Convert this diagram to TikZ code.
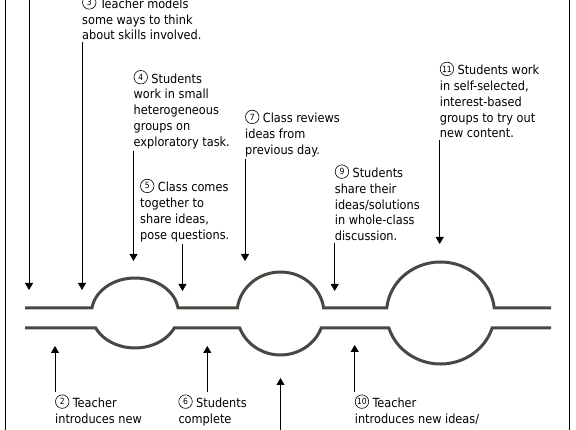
\documentclass[tikz,border=0pt]{standalone}
\usepackage{fontspec}
\setmainfont{DejaVu Sans Condensed}
\usetikzlibrary{arrows.meta}
\definecolor{pipegray}{HTML}{4A4641}
\newcommand{\cnum}[1]{\tikz[baseline={([yshift=1pt]cn.south)}]\node[circle, draw, line width=0.6pt, inner sep=0pt, minimum size=13.5pt, font=\fontsize{8.5}{8.5}\selectfont] (cn) {#1};}
\tikzset{
    note-text/.style = {anchor=base west, inner sep=0pt, align=left, font=\fontsize{12.6}{15.7}\selectfont},
    pipe-wall/.style = {draw=pipegray, line width=3pt},
    cue-arrow/.style = {draw, line width=0.8pt, shorten <=2pt, -{Triangle[width=8pt, length=7pt]}},
}

\begin{document}
\begin{tikzpicture}[x=1pt, y=1pt]
\useasboundingbox (0,0) rectangle (576,430);
% frame
\draw[line width=0.8pt] (5,-5) -- (5,435);
\draw[line width=0.8pt] (569,-5) -- (569,435);
% pipe with three bulbs
\draw[pipe-wall] (25,122) -- (91.95,122)
    arc[start angle=171.8, end angle=8.2, x radius=43.5, y radius=35] -- (237.38,122)
    arc[start angle=172.38, end angle=7.62, x radius=43.5, y radius=41.5] -- (386.76,122)
    arc[start angle=174.37, end angle=5.63, x radius=54, y radius=51] -- (551,122);
\draw[pipe-wall] (25,102) -- (95.7,102)
    arc[start angle=205.4, end angle=334.6, x radius=43.5, y radius=35] -- (239.74,102)
    arc[start angle=200.45, end angle=339.55, x radius=43.5, y radius=41.5] -- (388.89,102)
    arc[start angle=197.1, end angle=342.9, x radius=54, y radius=51] -- (551,102);
% labels above (placed by their last baseline)
\node[note-text] (l3) at (82,390.1) {\cnum{3} Teacher models\\some ways to think\\about skills involved.};
\node[note-text] (l4) at (133.5,283.9) {\cnum{4} Students\\work in small\\heterogeneous\\groups on\\exploratory task.};
\node[note-text] (l5) at (140,190.9) {\cnum{5} Class comes\\together to\\share ideas,\\pose questions.};
\node[note-text] (l7) at (245,275.6) {\cnum{7} Class reviews\\ideas from\\previous day.};
\node[note-text] (l9) at (334.7,189.5) {\cnum{9} Students\\share their\\ideas/solutions\\in whole-class\\discussion.};
\node[note-text] (l11) at (439.7,292.2) {\cnum{11} Students work\\in self-selected,\\interest-based\\groups to try out\\new content.};
% labels below
\node[note-text] (l2) at (55,6.6) {\cnum{2} Teacher\\introduces new};
\node[note-text] (l6) at (178.3,6.6) {\cnum{6} Students\\complete};
\node[note-text] (l10) at (354.7,6.6) {\cnum{10} Teacher\\introduces new ideas/};
% arrow tips
\coordinate (t1) at (29,140);
\coordinate (t3) at (82,140);
\coordinate (t4) at (133.5,169);
\coordinate (t5) at (182.5,139);
\coordinate (t7) at (245,169);
\coordinate (t9) at (334.7,139);
\coordinate (t11) at (439.7,186);
\coordinate (t2) at (55,84);
\coordinate (t6) at (207.3,84);
\coordinate (t8) at (280.5,52);
\coordinate (t10) at (354.7,85);
\coordinate (s1) at (29,435);
\coordinate (s8) at (280.5,-5);
% arrows
\draw[cue-arrow] (s1) -- (t1);
\draw[cue-arrow] (t3 |- l3.south) -- (t3);
\draw[cue-arrow] (t4 |- l4.south) -- (t4);
\draw[cue-arrow] (t5 |- l5.south) -- (t5);
\draw[cue-arrow] (t7 |- l7.south) -- (t7);
\draw[cue-arrow] (t9 |- l9.south) -- (t9);
\draw[cue-arrow] (t11 |- l11.south) -- (t11);
\draw[cue-arrow] (t2 |- l2.north) -- (t2);
\draw[cue-arrow] (t6 |- l6.north) -- (t6);
\draw[cue-arrow] (s8) -- (t8);
\draw[cue-arrow] (t10 |- l10.north) -- (t10);
\end{tikzpicture}
\end{document}
